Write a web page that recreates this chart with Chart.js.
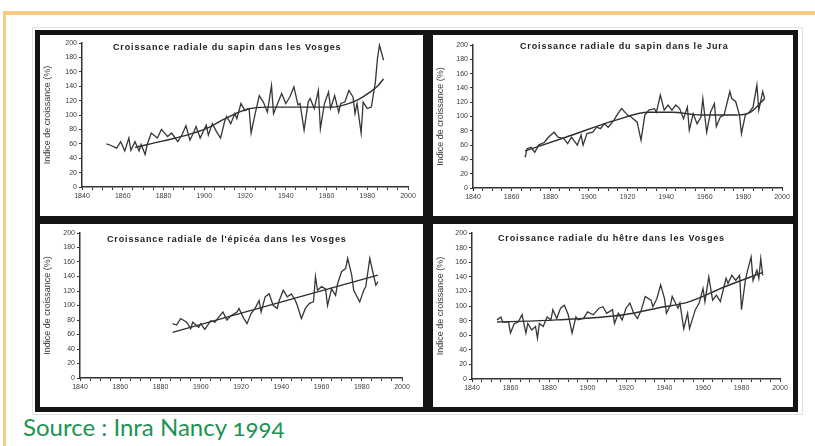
<!DOCTYPE html>
<html>
<head>
<meta charset="utf-8">
<script src="https://cdn.jsdelivr.net/npm/chart.js@4.4.1/dist/chart.umd.min.js"></script>
<style>
  body { margin: 0; width: 815px; height: 446px; background: #fff; position: relative; overflow: hidden; }
  .orange { position: absolute; background: #f6ca80; }
  #frame { position: absolute; left: 35px; top: 30px; width: 763px; height: 382px; background: #141414; }
  #halo { position: absolute; left: 32px; top: 27px; width: 771px; height: 388px; border: 1px solid #e2e2e2; box-sizing: border-box; }
  .panel { position: absolute; background: #fff; }
  .panel canvas { position: absolute; left: 0; top: 0; }
  .title { position: absolute; font: bold 9px "Liberation Sans", Arial, sans-serif; color: #222; white-space: nowrap; letter-spacing: 0.85px; }
  #source { position: absolute; left: 23px; top: 412px; font: 24px Lato, "Open Sans", sans-serif; color: #1b9452; white-space: nowrap; font-feature-settings: "onum"; }
</style>
</head>
<body>
<div class="orange" style="left:3px;top:11px;width:812px;height:4px"></div>
<div class="orange" style="left:3px;top:11px;width:3px;height:435px"></div>
<div id="halo"></div>
<div id="frame"></div>

<div class="panel" style="left:40px;top:35px;width:383px;height:181px"><canvas id="c1" width="383" height="181"></canvas></div>
<div class="panel" style="left:433px;top:35px;width:360px;height:181px"><canvas id="c2" width="360" height="181"></canvas></div>
<div class="panel" style="left:40px;top:224px;width:383px;height:183px"><canvas id="c3" width="383" height="183"></canvas></div>
<div class="panel" style="left:433px;top:224px;width:360px;height:183px"><canvas id="c4" width="360" height="183"></canvas></div>

<div class="title" style="left:113px;top:42px">Croissance radiale du sapin dans les Vosges</div>
<div class="title" style="left:520px;top:41px">Croissance radiale du sapin dans le Jura</div>
<div class="title" style="left:107px;top:234px">Croissance radiale de l'épicéa dans les Vosges</div>
<div class="title" style="left:498px;top:233px">Croissance radiale du hêtre dans les Vosges</div>

<div id="source">Source : Inra Nancy 1994</div>

<script>
// Sapin - Vosges
const sapinVosgesYears = [1852,1854,1857,1859,1861,1863,1864,1866,1868,1869,1871,1872,1874,1877,1879,1882,1884,1887,1889,1891,1893,1895,1896,1898,1901,1902,1904,1906,1908,1910,1911,1913,1915,1916,1918,1920,1922,1923,1925,1927,1929,1931,1933,1934,1937,1938,1940,1942,1944,1946,1947,1949,1951,1952,1954,1956,1957,1959,1961,1962,1964,1966,1967,1969,1971,1973,1974,1975,1977,1978,1980,1982,1984,1985,1986,1988];
const sapinVosgesValues = [60,58,54,63,50,68,51,63,50,59,45,59,75,68,80,70,75,63,72,85,65,77,84,68,86,72,88,77,68,91,98,88,102,95,116,106,109,75,102,127,118,104,141,102,123,130,116,125,139,114,116,79,118,123,109,134,81,116,132,109,127,104,116,118,134,125,102,116,75,118,109,111,146,178,197,176];
const sapinVosgesTrendYears = [1866,1880,1890,1900,1911,1921,1931,1947,1963,1970,1976,1981,1985,1988];
const sapinVosgesTrendValues = [55,64,71,80,96,108,111,111,111,115,122,131,140,150];

// Sapin - Jura
const sapinJuraYears = [1867,1868,1870,1872,1874,1877,1879,1882,1884,1887,1889,1891,1894,1896,1897,1899,1902,1904,1906,1908,1910,1913,1915,1917,1920,1922,1925,1927,1929,1931,1934,1935,1937,1939,1941,1943,1945,1947,1949,1951,1952,1954,1956,1958,1959,1961,1963,1965,1966,1968,1970,1973,1974,1976,1978,1979,1981,1983,1985,1987,1988,1990,1991];
const sapinJuraValues = [43,55,57,50,60,64,71,78,71,69,62,71,60,74,60,76,78,85,83,90,85,95,104,111,102,99,92,67,102,109,111,106,130,109,116,109,116,111,97,113,81,104,90,99,125,78,106,118,86,99,102,135,125,121,102,76,102,106,113,144,109,135,125];
const sapinJuraTrendYears = [1867,1888,1914,1931,1943,1958,1976,1983,1991];
const sapinJuraTrendValues = [52,71,95,106,106,102,102,105,125];

// Epicea - Vosges
const epiceaYears = [1886,1888,1890,1893,1895,1896,1899,1900,1902,1905,1907,1909,1911,1913,1915,1918,1919,1921,1923,1925,1927,1929,1930,1932,1934,1936,1938,1939,1941,1943,1945,1947,1948,1950,1952,1954,1956,1957,1958,1960,1962,1963,1965,1967,1968,1970,1972,1973,1975,1976,1979,1981,1982,1984,1986,1987,1988];
const epiceaValues = [75,73,82,77,68,77,70,75,67,79,77,84,91,80,86,91,96,84,75,89,96,107,91,112,116,100,96,107,121,112,116,107,100,82,96,103,105,140,121,126,123,100,123,114,130,147,151,165,142,121,105,121,126,165,140,128,133];
const epiceaTrendYears = [1886,1988];
const epiceaTrendValues = [63,142];

// Hetre - Vosges
const hetreYears = [1853,1855,1856,1859,1860,1862,1864,1866,1868,1869,1871,1873,1874,1875,1877,1879,1881,1882,1884,1886,1888,1890,1892,1894,1895,1898,1900,1903,1906,1908,1910,1913,1914,1916,1918,1920,1922,1924,1926,1928,1930,1933,1934,1936,1938,1940,1941,1943,1944,1947,1948,1950,1952,1953,1956,1958,1960,1961,1963,1965,1967,1969,1972,1973,1975,1977,1979,1980,1982,1983,1985,1986,1988,1989,1990,1991];
const hetreValues = [81,85,78,78,63,76,78,88,63,76,67,72,56,76,72,85,81,95,83,97,101,88,63,85,81,83,92,88,97,99,90,95,76,90,81,97,104,90,83,95,113,108,99,110,129,110,90,101,113,97,104,69,90,69,95,104,124,106,140,108,115,106,138,131,142,135,142,95,135,147,167,135,149,138,165,142];
const hetreTrendYears = [1853,1884,1919,1936,1953,1971,1991];
const hetreTrendValues = [78,81,88,97,106,126,146];

const yTitle = 'Indice de croissance (%)';

function points(xs, ys) {
  return xs.map((x, i) => ({ x: x, y: ys[i] }));
}

function makePanel(id, years, values, trendYears, trendValues, box) {
  new Chart(document.getElementById(id), {
    type: 'line',
    data: {
      datasets: [
        { data: points(years, values), borderColor: '#363636', borderWidth: 1.3, pointRadius: 0, tension: 0 },
        { data: points(trendYears, trendValues), borderColor: '#2e2e2e', borderWidth: 1.4, pointRadius: 0, cubicInterpolationMode: 'monotone' }
      ]
    },
    options: {
      responsive: false,
      animation: false,
      layout: { padding: { top: box.top, right: box.right, left: 0, bottom: 0 } },
      plugins: { legend: { display: false }, tooltip: { enabled: false } },
      scales: {
        x: {
          type: 'linear', min: 1840, max: 2000,
          ticks: {
            stepSize: 5, autoSkip: false, maxRotation: 0, padding: 2,
            color: '#3a3a3a', font: { size: 7, family: 'Liberation Sans' },
            callback: v => (v % 20 === 0 ? v : '')
          },
          grid: { drawOnChartArea: false, tickLength: 3, color: '#333' },
          border: { color: '#333', width: 1.5 },
          afterFit: s => { s.height = box.xh; }
        },
        y: {
          min: 0, max: 200,
          ticks: { stepSize: 20, padding: 2, color: '#3a3a3a', font: { size: 7, family: 'Liberation Sans' } },
          grid: { drawOnChartArea: false, tickLength: 3, color: '#333' },
          border: { color: '#333', width: 1.5 },
          title: { display: true, text: yTitle, color: '#3a3a3a', padding: { top: 2, bottom: 0 }, font: { size: 9, family: 'Liberation Sans' } },
          afterFit: s => { s.width = box.yw; }
        }
      }
    }
  });
}

makePanel('c1', sapinVosgesYears, sapinVosgesValues, sapinVosgesTrendYears, sapinVosgesTrendValues, { top: 8, right: 15, xh: 29, yw: 42 });
makePanel('c2', sapinJuraYears, sapinJuraValues, sapinJuraTrendYears, sapinJuraTrendValues, { top: 10, right: 11, xh: 28, yw: 40 });
makePanel('c3', epiceaYears, epiceaValues, epiceaTrendYears, epiceaTrendValues, { top: 9, right: 21, xh: 29, yw: 40 });
makePanel('c4', hetreYears, hetreValues, hetreTrendYears, hetreTrendValues, { top: 9, right: 13, xh: 28, yw: 39 });
</script>
</body>
</html>
